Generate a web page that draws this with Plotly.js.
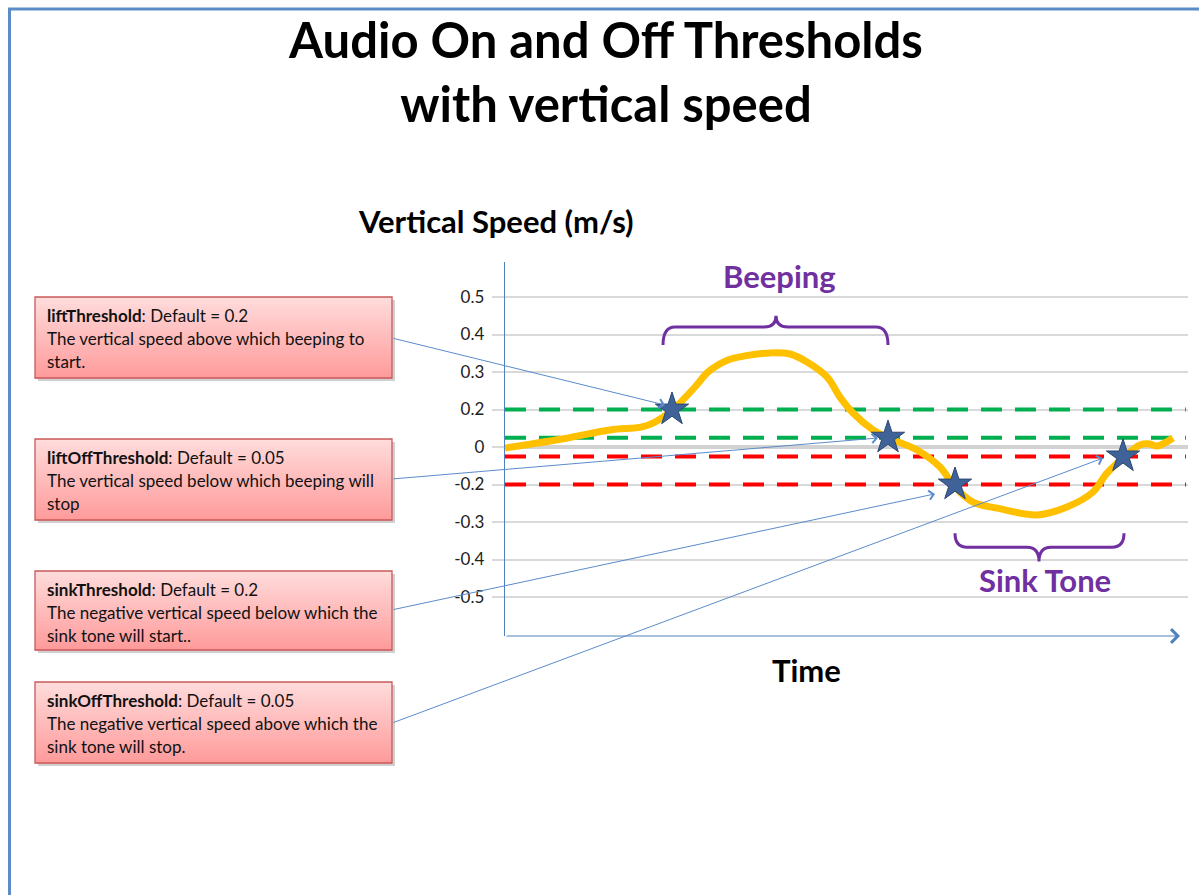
<!DOCTYPE html>
<html>
<head>
<meta charset="utf-8">
<script src="https://cdn.plot.ly/plotly-3.0.1.min.js"></script>
<style>html,body{margin:0;padding:0;background:#fff;}#chart{width:1199px;height:895px;}</style>
</head>
<body>
<div id="chart"></div>
<script>
// ---- data (time in arbitrary units, vertical speed in m/s) ----
const timeS = [0, 5.7, 10.5, 13.7, 15.0, 16.7, 19.0, 20.3, 22.3, 24.0, 26.5, 28.5, 30.2, 32.2, 33.5, 34.8, 36.8, 38.3, 41.2, 43.5, 45.0, 46.8, 49.2, 53.2, 56.2, 58.8, 60.2, 61.8, 63.5, 64.5, 65.2, 66.8];
const speed = [-0.005, 0.043, 0.091, 0.107, 0.133, 0.195, 0.26, 0.30, 0.332, 0.343, 0.351, 0.348, 0.327, 0.287, 0.233, 0.181, 0.091, 0.048, -0.016, -0.107, -0.207, -0.247, -0.263, -0.281, -0.26, -0.22, -0.139, -0.059, 0.011, 0.016, 0.005, 0.048];
const starTime = [16.7, 38.3, 45.0, 61.8];
const starSpeed = [0.2, 0.05, -0.2, -0.05];
const liftThresholds = [0.2, 0.05];
const sinkThresholds = [-0.2, -0.05];
const thresholdSpan = [0, 68.1];
const tickValues = [0.5, 0.4, 0.3, 0.2, 0, -0.2, -0.3, -0.4, -0.5];
const tickLabels = ['0.5', '0.4', '0.3', '0.2', '0', '-0.2', '-0.3', '-0.4', '-0.5'];
const boxTitles = ['liftThreshold', 'liftOffThreshold', 'sinkThreshold', 'sinkOffThreshold'];
const boxDefaults = [': Default = 0.2', ': Default = 0.05', ': Default = 0.2', ': Default = 0.05'];
const boxLine2 = ['The vertical speed above which beeping to', 'The vertical speed below which beeping will', 'The negative vertical speed below which the', 'The negative vertical speed above which the'];
const boxLine3 = ['start.', 'stop', 'sink tone will start..', 'sink tone will stop.'];
// arrow heads (time, m/s)
const arrowHeadTime = [16.0, 37.3, 43.0, 59.8];
const arrowHeadSpeed = [0.212, 0.048, -0.225, -0.059];

// axis scale of the drawing: 0..0.2 spans one grid step, beyond that 0.1 per step
function f(v) {
  if (v >= 0.2) return 1 + (v - 0.2) / 0.1;
  if (v <= -0.2) return -1 + (v + 0.2) / 0.1;
  return v / 0.2;
}

// layout helpers (page pixels -> paper)
const L = 505, R = 1188, T = 262, B = 636;
const PX = x => (x - L) / (R - L);
const PY = y => (B - y) / (B - T);

const shapes = [];
// page border
shapes.push({type:'line', xref:'paper', yref:'paper', x0:PX(8), x1:PX(1199), y0:PY(9), y1:PY(9), line:{color:'#5b8cc8', width:3}});
shapes.push({type:'line', xref:'paper', yref:'paper', x0:PX(9.5), x1:PX(9.5), y0:PY(8), y1:PY(895), line:{color:'#5b8cc8', width:3}});

// boxes with gradient
const boxTops = [297, 439, 571, 682], boxBottoms = [378, 520, 650, 763];
const boxLeft = 35, boxRight = 392;
function mix(a, b, t) { return Math.round(a + (b - a) * t); }
boxTops.forEach((top, i) => {
  const bot = boxBottoms[i];
  shapes.push({type:'rect', xref:'paper', yref:'paper', x0:PX(boxLeft+3), x1:PX(boxRight+3), y0:PY(top+3), y1:PY(bot+3), fillcolor:'rgba(120,120,120,0.35)', line:{width:0}});
  const n = 24;
  for (let k = 0; k < n; k++) {
    const t = (k + 0.5) / n;
    const col = 'rgb(255,' + mix(220, 154, t) + ',' + mix(220, 154, t) + ')';
    shapes.push({type:'rect', xref:'paper', yref:'paper', x0:PX(boxLeft), x1:PX(boxRight), y0:PY(top + (bot-top)*k/n), y1:PY(top + (bot-top)*(k+1)/n + 0.6), fillcolor:col, line:{width:0}});
  }
  shapes.push({type:'rect', xref:'paper', yref:'paper', x0:PX(boxLeft), x1:PX(boxRight), y0:PY(top), y1:PY(bot), line:{color:'#c9595a', width:1.3}});
});

// braces
function brace(x0, x1, xm, yEnd, yH, yTip) {
  const d = 1.2;
  return 'M' + x0 + ',' + yEnd + ' Q' + x0 + ',' + yH + ' ' + (x0+d) + ',' + yH +
    ' L' + (xm-d) + ',' + yH + ' Q' + xm + ',' + yH + ' ' + xm + ',' + yTip +
    ' Q' + xm + ',' + yH + ' ' + (xm+d) + ',' + yH +
    ' L' + (x1-d) + ',' + yH + ' Q' + x1 + ',' + yH + ' ' + x1 + ',' + yEnd;
}
shapes.push({type:'path', xref:'x', yref:'y', path:brace(15.8, 38.3, 27.1, 2.72, 3.2, 3.5), line:{color:'#7030a0', width:3}});
shapes.push({type:'path', xref:'x', yref:'y', path:brace(45.0, 61.9, 53.4, -2.3, -2.67, -3.05), line:{color:'#7030a0', width:3}});

const annotations = [];
const bigFont = (c) => ({family:'Lato', size:31, color:c, weight:'bold'});
annotations.push({xref:'paper', yref:'paper', x:PX(496), y:PY(221), xanchor:'center', yanchor:'middle', text:'Vertical Speed (m/s)', showarrow:false, font:bigFont('#000')});
annotations.push({xref:'paper', yref:'paper', x:PX(806), y:PY(670), xanchor:'center', yanchor:'middle', text:'Time', showarrow:false, font:bigFont('#000')});
annotations.push({xref:'paper', yref:'paper', x:PX(779), y:PY(276), xanchor:'center', yanchor:'middle', text:'Beeping', showarrow:false, font:bigFont('#7030a0')});
annotations.push({xref:'paper', yref:'paper', x:PX(1045), y:PY(580), xanchor:'center', yanchor:'middle', text:'Sink Tone', showarrow:false, font:bigFont('#7030a0')});

// x axis arrow
annotations.push({xref:'paper', yref:'paper', x:PX(1180), y:0, ax:-(1180-L), ay:0, text:'', showarrow:true, arrowhead:4, arrowsize:2.2, arrowwidth:1.2, arrowcolor:'#4f81bd'});

// box texts
const lineOffsets = [18, 41, 64];
boxTops.forEach((top, i) => {
  const lines = ['<b>' + boxTitles[i] + '</b>' + boxDefaults[i], boxLine2[i], boxLine3[i]];
  lines.forEach((txt, j) => annotations.push({xref:'paper', yref:'paper', x:PX(45), y:PY(top + lineOffsets[j]), xanchor:'left', yanchor:'middle', text:txt, showarrow:false, font:{family:'Lato', size:17, color:'#111'}}));
});

// pointer arrows from boxes
const tailY = [338, 479, 610, 723];
const headPx = [[665,405],[878,438],[935,494],[1103,458]];
arrowHeadTime.forEach((t, i) => {
  annotations.push({xref:'x', yref:'y', x:t, y:f(arrowHeadSpeed[i]), ax:boxRight - headPx[i][0], ay:tailY[i] - headPx[i][1], text:'', showarrow:true, arrowhead:4, arrowsize:1.8, arrowwidth:1, arrowcolor:'#5b8bcc', standoff:0});
});

const traces = [];
liftThresholds.forEach(v => traces.push({x:thresholdSpan, y:[f(v), f(v)], mode:'lines', line:{color:'#00b050', width:4, dash:'21px,13px'}, hoverinfo:'skip', showlegend:false}));
sinkThresholds.forEach(v => traces.push({x:thresholdSpan, y:[f(v), f(v)], mode:'lines', line:{color:'#ff0000', width:4, dash:'21px,13px'}, hoverinfo:'skip', showlegend:false}));
traces.push({x: timeS, y: speed.map(f), mode:'lines', line:{color:'#ffc000', width:7, shape:'spline', smoothing:1}, hoverinfo:'skip', showlegend:false});
traces.push({x: starTime, y: starSpeed.map(f), mode:'markers', marker:{symbol:'star', size:25, color:'#3f6398', line:{color:'#2b4670', width:1}}, hoverinfo:'skip', showlegend:false});

const layout = {
  width:1199, height:895,
  margin:{l:L, r:1199-R, t:T, b:895-B},
  paper_bgcolor:'#fff', plot_bgcolor:'#fff',
  title:{text:'Audio On and Off Thresholds<br>with vertical speed', x:606/1199, xref:'container', xanchor:'center', y:1-58/895, yref:'container', yanchor:'middle', font:{family:'Lato', size:49, color:'#000', weight:'bold'}},
  xaxis:{range:[0, 68.3], showgrid:false, zeroline:false, showline:false, showticklabels:false, ticks:''},
  yaxis:{range:[(B-447)/-37.5, (447-T)/37.5], tickvals:tickValues.map(f), ticktext:tickLabels, showgrid:true, gridcolor:'#d9d9d9', gridwidth:2,
         zeroline:true, zerolinecolor:'#d2d2d2', zerolinewidth:3.5, showline:true, linecolor:'#4f81bd', linewidth:1.3,
         ticks:'outside', ticklen:12, tickcolor:'#d9d9d9', tickwidth:2, ticklabelstandoff:4, tickfont:{family:'Lato', size:17, color:'#222'}},
  shapes: shapes,
  annotations: annotations,
  showlegend:false
};

Plotly.newPlot('chart', traces, layout, {displayModeBar:false, staticPlot:true});
</script>
</body>
</html>
